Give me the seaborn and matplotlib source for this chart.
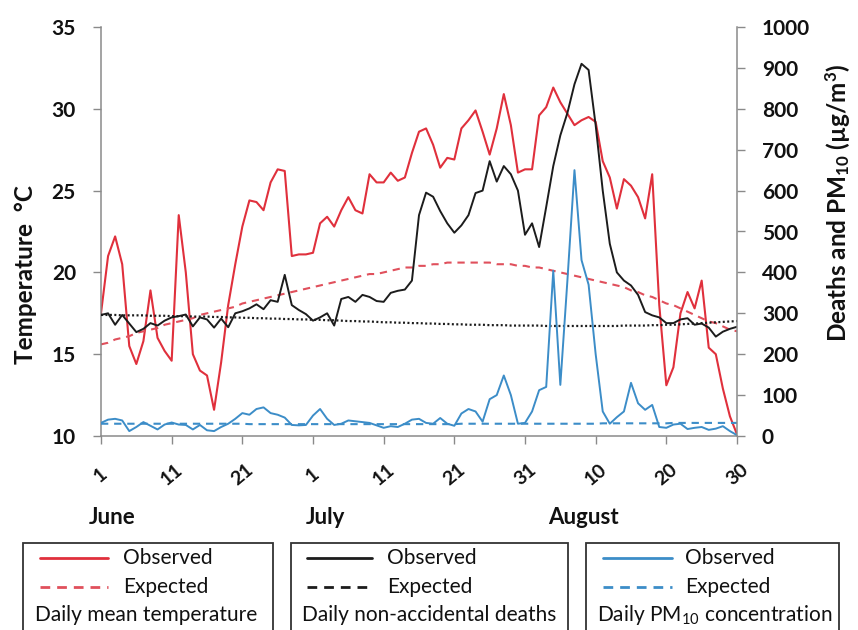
import numpy as np
import pandas as pd
import matplotlib
matplotlib.use("Agg")
import matplotlib.pyplot as plt
import seaborn as sns
from matplotlib.patches import Rectangle
from matplotlib.lines import Line2D

# ---------------- data ----------------
day_index = list(range(91))  # June 1 ... August 30
tick_days = [0, 10, 20, 30, 40, 50, 60, 70, 80, 90]
tick_labels = ["1", "11", "21", "1", "11", "21", "31", "10", "20", "30"]
month_labels = ["June", "July", "August"]

temp_observed = [
    17.5, 21.0, 22.2, 20.5, 15.5, 14.4, 15.8, 18.9, 16.0, 15.2,
    14.6, 23.5, 20.0, 15.0, 14.0, 13.7, 11.6, 14.5, 18.0, 20.5,
    22.8, 24.4, 24.3, 23.8, 25.5, 26.3, 26.2, 21.0, 21.1, 21.1,
    21.2, 23.0, 23.4, 22.8, 23.8, 24.6, 23.8, 23.6, 26.0, 25.5,
    25.5, 26.1, 25.6, 25.8, 27.3, 28.6, 28.8, 27.8, 26.4, 27.0,
    26.9, 28.8, 29.3, 29.9, 28.6, 27.2, 28.8, 30.9, 29.0, 26.1,
    26.3, 26.3, 29.6, 30.1, 31.3, 30.4, 29.7, 29.0, 29.3, 29.5,
    29.2, 26.8, 25.8, 23.9, 25.7, 25.3, 24.6, 23.3, 26.0, 18.0,
    13.1, 14.2, 17.5, 18.8, 17.8, 19.5, 15.4, 15.0, 12.9, 11.2,
    10.1]

temp_expected = [
    15.6, 15.7, 15.9, 16.0, 16.1, 16.3, 16.4, 16.5, 16.6, 16.8,
    16.9, 17.0, 17.1, 17.2, 17.4, 17.5, 17.6, 17.7, 17.8, 17.9,
    18.1, 18.2, 18.3, 18.4, 18.5, 18.6, 18.7, 18.8, 18.9, 19.0,
    19.1, 19.2, 19.3, 19.4, 19.5, 19.6, 19.7, 19.8, 19.9, 19.9,
    20.0, 20.1, 20.2, 20.3, 20.3, 20.4, 20.4, 20.5, 20.5, 20.6,
    20.6, 20.6, 20.6, 20.6, 20.6, 20.6, 20.5, 20.5, 20.5, 20.4,
    20.4, 20.3, 20.3, 20.2, 20.1, 20.0, 19.9, 19.8, 19.7, 19.6,
    19.5, 19.4, 19.3, 19.2, 19.1, 18.9, 18.8, 18.6, 18.5, 18.3,
    18.1, 18.0, 17.8, 17.6, 17.4, 17.2, 17.0, 16.9, 16.7, 16.5,
    16.4]

deaths_observed = [
    296, 300, 272, 296, 275, 254, 262, 276, 270, 282,
    290, 293, 297, 268, 290, 285, 265, 287, 266, 300,
    305, 312, 322, 310, 332, 328, 394, 320, 308, 298,
    282, 290, 300, 270, 335, 340, 328, 345, 340, 330,
    328, 350, 355, 358, 380, 540, 595, 585, 550, 520,
    497, 515, 540, 594, 600, 672, 622, 660, 640, 600,
    492, 520, 462, 560, 660, 735, 790, 860, 910, 895,
    760, 600, 470, 400, 380, 368, 345, 303, 295, 290,
    276, 276, 285, 288, 272, 275, 265, 243, 255, 262,
    267]

deaths_expected = [
    296, 296, 296, 295, 295, 295, 295, 294, 294, 294,
    293, 293, 293, 292, 292, 292, 291, 291, 290, 290,
    289, 289, 288, 288, 287, 287, 286, 286, 285, 285,
    284, 284, 283, 283, 282, 281, 281, 280, 280, 279,
    278, 278, 277, 277, 276, 276, 275, 275, 274, 274,
    273, 273, 272, 272, 272, 271, 271, 271, 270, 270,
    270, 270, 270, 269, 269, 269, 269, 269, 269, 269,
    269, 269, 269, 269, 270, 270, 270, 270, 271, 271,
    272, 272, 273, 274, 275, 276, 277, 278, 279, 280,
    281]

pm10_observed = [
    32, 40, 42, 38, 12, 22, 34, 25, 16, 28,
    33, 28, 27, 16, 27, 14, 12, 22, 30, 42,
    56, 52, 66, 70, 56, 52, 45, 27, 26, 27,
    50, 66, 42, 27, 30, 38, 36, 34, 32, 26,
    20, 24, 22, 30, 40, 42, 32, 30, 44, 30,
    25, 55, 66, 60, 35, 90, 100, 148, 100, 30,
    32, 60, 112, 120, 404, 125, 380, 650, 430, 370,
    200, 60, 30, 46, 60, 130, 80, 64, 76, 22,
    20, 28, 30, 17, 20, 22, 15, 18, 24, 12,
    2]

pm10_expected = [
    30, 30, 30, 30, 30, 30, 30, 30, 30, 30,
    30, 30, 30, 30, 30, 30, 30, 30, 30, 30,
    30, 29, 29, 29, 29, 29, 29, 29, 29, 29,
    29, 29, 29, 29, 29, 29, 29, 29, 29, 29,
    29, 29, 29, 29, 29, 29, 29, 29, 29, 29,
    29, 30, 30, 30, 30, 30, 30, 30, 30, 30,
    30, 30, 30, 30, 30, 30, 30, 30, 30, 30,
    30, 31, 31, 31, 31, 31, 31, 31, 31, 31,
    31, 32, 32, 32, 32, 32, 32, 32, 32, 32,
    32]

df = pd.DataFrame({
    "day": day_index,
    "temp_obs": temp_observed, "temp_exp": temp_expected,
    "deaths_obs": deaths_observed, "deaths_exp": deaths_expected,
    "pm_obs": pm10_observed, "pm_exp": pm10_expected,
})

# ---------------- style ----------------
sns.set_theme(style="ticks")
plt.rcParams["font.family"] = ["Lato", "DejaVu Sans"]
plt.rcParams["mathtext.fontset"] = "custom"
plt.rcParams["mathtext.rm"] = "Lato"
plt.rcParams["mathtext.it"] = "Lato:italic"
plt.rcParams["mathtext.bf"] = "Lato:bold"

RED = "#E0303C"
RED_EXP = "#E0505C"
BLACK = "#1c1c1c"
BLUE = "#3C8DC8"
SPINE = "#8a8a8a"

W, H = 858, 630
fig = plt.figure(figsize=(W / 100, H / 100), dpi=100)


def fx(x):
    return x / W


def fy(y):
    return 1 - y / H


ax = fig.add_axes([fx(101), fy(436), (737 - 101) / W, (436 - 27) / H])
ax2 = ax.twinx()

sns.lineplot(data=df, x="day", y="temp_obs", ax=ax, color=RED, linewidth=1.5)
sns.lineplot(data=df, x="day", y="temp_exp", ax=ax, color=RED_EXP, linewidth=1.5,
             linestyle=(0, (3.5, 2.8)))
sns.lineplot(data=df, x="day", y="deaths_exp", ax=ax2, color=BLACK, linewidth=1.6,
             linestyle=(0, (0.9, 1.1)))
sns.lineplot(data=df, x="day", y="pm_exp", ax=ax2, color=BLUE, linewidth=1.5,
             linestyle=(0, (3.5, 2.8)))
sns.lineplot(data=df, x="day", y="pm_obs", ax=ax2, color=BLUE, linewidth=1.4)
sns.lineplot(data=df, x="day", y="deaths_obs", ax=ax2, color=BLACK, linewidth=1.4)

ax.set_xlim(0, 90)
ax.set_ylim(10, 35)
ax2.set_ylim(0, 1000)
ax.set_yticks([10, 15, 20, 25, 30, 35])
ax2.set_yticks(list(range(0, 1001, 100)))
ax.set_xticks(tick_days)
ax.set_xticklabels(tick_labels, rotation=40, ha="center", va="center",
                   fontsize=14, fontweight="bold")
ax.set_xlabel("")
ax.set_ylabel("")
ax2.set_ylabel("")

for a in (ax, ax2):
    a.spines["top"].set_visible(False)
    for s in ("left", "right", "bottom"):
        a.spines[s].set_color(SPINE)
        a.spines[s].set_linewidth(1.1)
ax.spines["right"].set_visible(False)
ax2.spines["left"].set_visible(False)
ax2.spines["bottom"].set_visible(False)

ax.tick_params(axis="x", length=6, width=1, color=SPINE, pad=22, labelcolor="#111")
ax.tick_params(axis="y", length=6, width=1, color=SPINE, pad=12, labelsize=15,
               labelcolor="#111")
ax2.tick_params(axis="y", length=6, width=1, color=SPINE, pad=12, labelsize=15,
                labelcolor="#111")
for lab in ax.get_yticklabels() + ax2.get_yticklabels():
    lab.set_fontweight("bold")

# axis titles
fig.text(fx(26), fy(275), "Temperature  °C", rotation=90, ha="center", va="center",
         fontsize=17.5, fontweight="bold", color="#111")
fig.text(fx(838), fy(203), "Deaths and PM$_{\\mathbf{10}}$ (µg/m$^{\\mathbf{3}}$)",
         rotation=90, ha="center", va="center", fontsize=17.5, fontweight="bold",
         color="#111")

# month labels
for name, xc in zip(month_labels, [112, 325, 583]):
    fig.text(fx(xc), fy(518), name, ha="center", va="center", fontsize=16,
             fontweight="bold", color="#111")

# ---------------- legend boxes ----------------
boxes = [
    (23, 273, RED, RED_EXP, "Daily mean temperature", 40, 108, 123, 35),
    (291, 568, BLACK, BLACK, "Daily non-accidental deaths", 307, 372, 387, 302),
    (586, 839, BLUE, BLUE, "Daily PM$_{10}$ concentration", 603, 672, 685, 597),
]
for x0, x1, c_obs, c_exp, title, lx0, lx1, tx, ttx in boxes:
    fig.add_artist(Rectangle((fx(x0), fy(645)), (x1 - x0) / W, (645 - 543) / H,
                             transform=fig.transFigure, fill=False,
                             edgecolor="#333333", linewidth=1.3))
    fig.add_artist(Line2D([fx(lx0), fx(lx1)], [fy(558), fy(558)],
                          transform=fig.transFigure, color=c_obs, linewidth=2))
    fig.add_artist(Line2D([fx(lx0), fx(lx1)], [fy(587), fy(587)],
                          transform=fig.transFigure, color=c_exp, linewidth=2,
                          linestyle=(0, (3.5, 2.5))))
    fig.text(fx(tx), fy(558), "Observed", ha="left", va="center", fontsize=15,
             color="#111")
    fig.text(fx(tx), fy(587), "Expected", ha="left", va="center", fontsize=15,
             color="#111")
    fig.text(fx(ttx), fy(615), title, ha="left", va="center", fontsize=15,
             color="#111")

fig.savefig("out.png", dpi=100)
